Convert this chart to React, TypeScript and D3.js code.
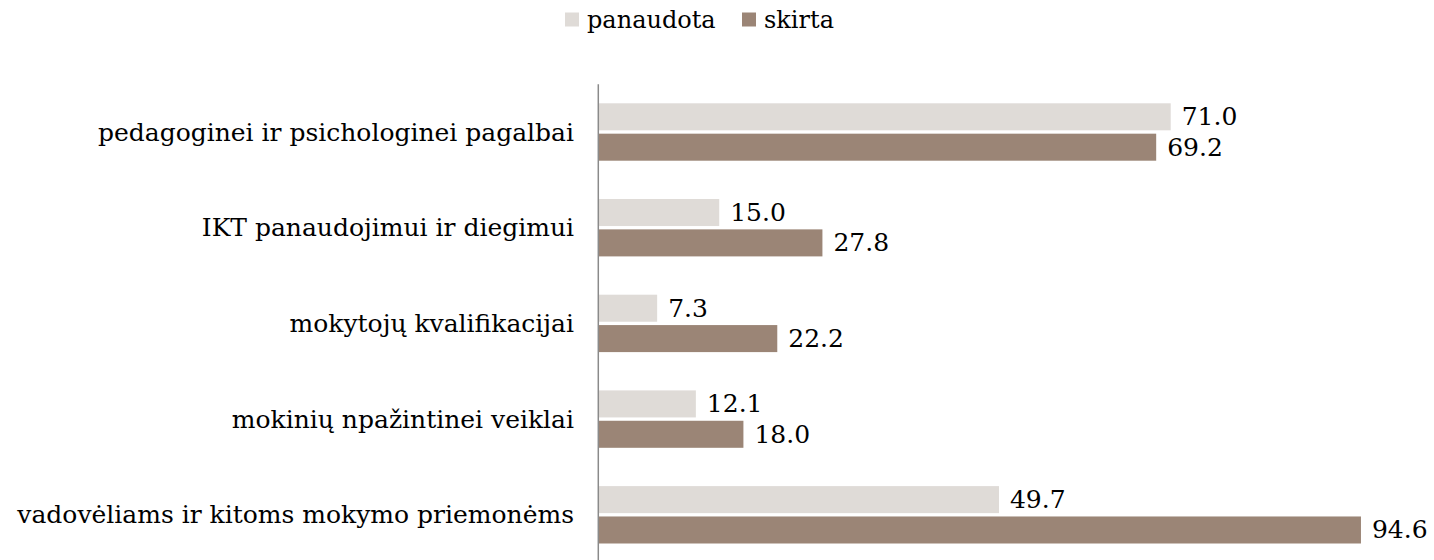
import React from "react";
import * as d3 from "d3";

const categories = [
  "pedagoginei ir psichologinei pagalbai",
  "IKT panaudojimui ir diegimui",
  "mokytojų kvalifikacijai",
  "mokinių npažintinei veiklai",
  "vadovėliams ir kitoms mokymo priemonėms",
];
const panaudota = [71.0, 15.0, 7.3, 12.1, 49.7];
const skirta = [69.2, 27.8, 22.2, 18.0, 94.6];
const seriesNames = ["panaudota", "skirta"];
const seriesColors = ["#dfdbd7", "#9b8576"];

const W = 1434;
const H = 560;
const FONT = "'DejaVu Serif', serif";

export default function App() {
  const x0 = 598.3;
  const x = d3.scaleLinear().domain([0, 71]).range([x0, 1170.7]);
  const y = d3.scaleBand<string>().domain(categories).range([84.2, 84.2 + 5 * 95.7]).paddingInner(0).paddingOuter(0);
  const inner = d3.scaleBand<string>().domain(seriesNames).range([19.1, 76.5]).paddingInner(0.11);
  const series = [panaudota, skirta];

  return (
    <svg width={W} height={H} style={{ position: "absolute", left: 0, top: 0, background: "#fff" }} fontFamily={FONT}>
      {/* legend */}
      <g>
        <rect x={565} y={12.5} width={14} height={14} fill={seriesColors[0]} />
        <text x={587} y={20} dominantBaseline="central" fontSize={24} fill="#000">{seriesNames[0]}</text>
        <rect x={742} y={12.5} width={14} height={14} fill={seriesColors[1]} />
        <text x={764} y={20} dominantBaseline="central" fontSize={24} fill="#000">{seriesNames[1]}</text>
      </g>
      {categories.map((c, i) => (
        <g key={c}>
          {series.map((s, j) => {
            const yy = (y(c) as number) + (inner(seriesNames[j]) as number);
            const bh = inner.bandwidth();
            return (
              <g key={j}>
                <rect x={x(0)} y={yy} width={x(s[i]) - x(0)} height={bh} fill={seriesColors[j]} />
                <text x={x(s[i]) + 11} y={yy + bh / 2} dominantBaseline="central" fontSize={25} fill="#000">
                  {s[i].toFixed(1)}
                </text>
              </g>
            );
          })}
          <text
            x={574}
            y={(y(c) as number) + y.bandwidth() / 2}
            textAnchor="end"
            dominantBaseline="central"
            fontSize={25}
            fill="#000"
          >
            {c}
          </text>
        </g>
      ))}
      <line x1={x0} x2={x0} y1={84.2} y2={H} stroke="#8a8a8a" strokeWidth={1.5} />
    </svg>
  );
}
